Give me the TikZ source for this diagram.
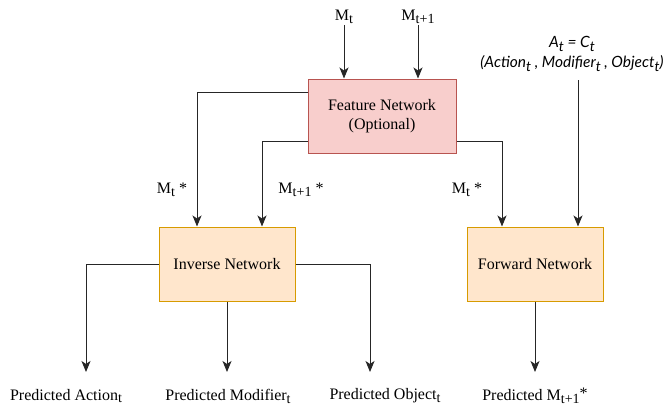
\documentclass[tikz,border=0pt]{standalone}
\usepackage{fontspec}
\setmainfont{Liberation Serif}
\newfontfamily\labfont{Lato}
\usetikzlibrary{arrows.meta,positioning}

\definecolor{featfill}{HTML}{F8CECC}
\definecolor{featline}{HTML}{B85450}
\definecolor{netfill}{HTML}{FFE6CC}
\definecolor{netline}{HTML}{D79B00}

% lowered small index, as in the drawing
\newcommand{\dsub}[1]{\raisebox{-0.4ex}{\fontsize{14}{14}\selectfont #1}}

\begin{document}
\begin{tikzpicture}[
  x=1pt, y=-1pt,
  font=\fontsize{16}{19}\selectfont,
  feat/.style={draw=featline, fill=featfill, line width=1pt,
               minimum width=148pt, minimum height=74pt, align=center},
  net/.style={draw=netline, fill=netfill, line width=1pt,
              minimum width=136pt, minimum height=74pt},
  lab/.style={inner sep=1pt},
  arr/.style={line width=1pt, black!85, -{Stealth[length=11pt,width=9pt,inset=3pt]}}
]
  \useasboundingbox (0,0) rectangle (665,408);

  % boxes
  \node[feat] (fn) at (382,116) {Feature Network\\(Optional)};
  \node[net] (inv) at (227,264) {Inverse Network};
  \node[net] (fwd) at (535,264) {Forward Network};

  % inputs
  \node[lab] (mt) at (344,17) {M\dsub{t}};
  \node[lab] (mt1) at (418,17) {M\dsub{t+1}};
  \node[lab, align=center, font=\labfont\itshape\fontsize{15.5}{20}\selectfont] (act) at (572,54)
    {A\dsub{\itshape t} = C\dsub{\itshape t}\\(Action\dsub{\itshape t} , Modifier\dsub{\itshape t} , Object\dsub{\itshape t})};
  \coordinate (actin) at (578,80);

  \draw[arr] (mt.south) -- (mt.south |- fn.north);
  \draw[arr] (mt1.south) -- (mt1.south |- fn.north);
  \draw[arr] (actin) -- (actin |- fwd.north);

  % features
  \draw[arr] (fn.west |- 0,92) -| (inv.north -| 197,0);
  \draw[arr] (fn.west |- 0,141) -| (inv.north -| 262,0);
  \draw[arr] (fn.east |- 0,141) -| (fwd.north -| 502,0);

  \node[lab] (fa) at (172,190) {M\dsub{t} *};
  \node[lab] (fb) at (301,190) {M\dsub{t+1} *};
  \node[lab] (fc) at (467,190) {M\dsub{t} *};

  % outputs
  \coordinate (pa) at (86,372);
  \coordinate (pm) at (227,372);
  \coordinate (po) at (370,372);
  \coordinate (pf) at (535,372);

  \draw[arr] (inv.west) -| (pa);
  \draw[arr] (inv.south) -- (pm);
  \draw[arr] (inv.east) -| (po);
  \draw[arr] (fwd.south) -- (pf);

  \node[lab] (oact) at (66,396) {Predicted Action\dsub{t}};
  \node[lab] (omod) at (228,396) {Predicted Modifier\dsub{t}};
  \node[lab] (oobj) at (385,396) {Predicted Object\dsub{t}};
  \node[lab] (ofwd) at (535,396) {Predicted M\dsub{t+1}\raisebox{0.2ex}{*}};
\end{tikzpicture}
\end{document}
